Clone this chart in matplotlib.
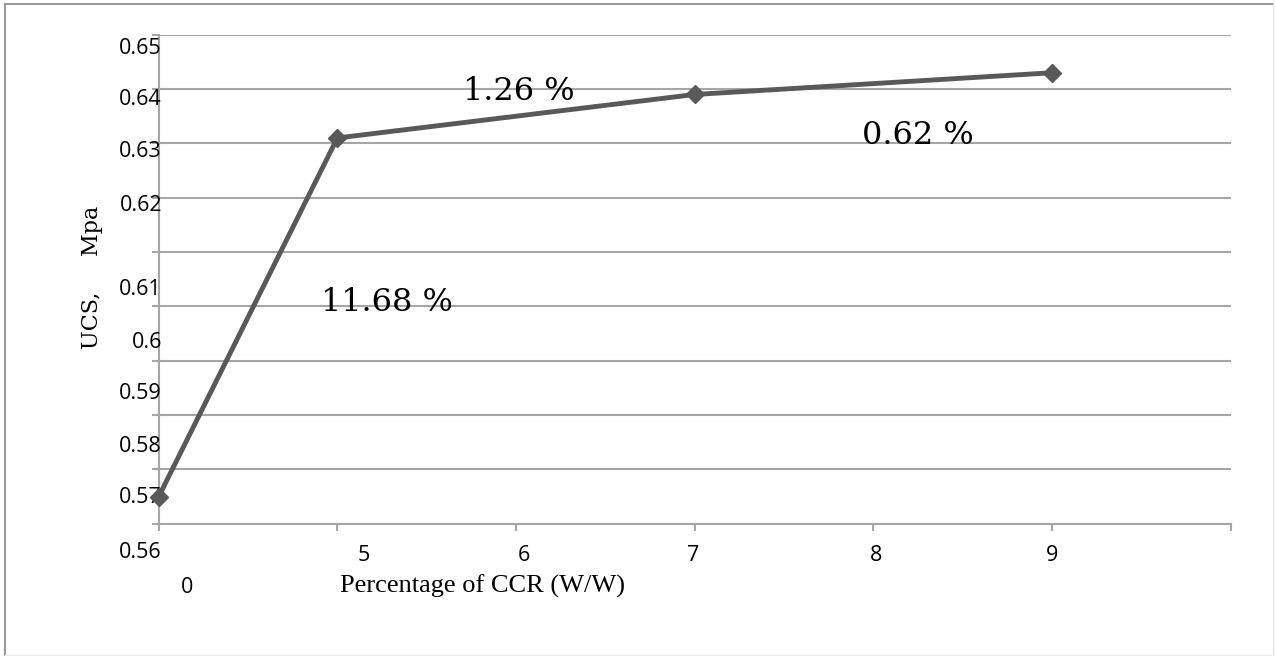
import numpy as np
import matplotlib
matplotlib.use("Agg")
import matplotlib.pyplot as plt
import matplotlib.transforms as mtransforms
from matplotlib.lines import Line2D

# data
ccr_pct = [0, 5, 7, 9]
ucs_mpa = [0.565, 0.631, 0.639, 0.643]
increase_pct = [11.68, 1.26, 0.62]

y_ticks = [0.56, 0.57, 0.58, 0.59, 0.60, 0.61, 0.62, 0.63, 0.64, 0.65]
y_tick_labels = ["0.56", "0.57", "0.58", "0.59", "0.6", "0.61", "0.62", "0.63", "0.64", "0.65"]
x_ticks = [4, 5, 6, 7, 8, 9, 10]
x_label_pos = [4, 5, 6, 7, 8, 9]
x_tick_labels = ["0", "5", "6", "7", "8", "9"]

# layout (pixels at dpi 100)
W, H = 1276, 656
DPI = 100
x_min, x_max = 4, 10
y_min, y_max = 0.56, 0.65

# the labels in the source image sit off their gridlines, shifts in px (down = +)
y_label_shift = [28.2, 28.1, 31.5, 32.9, 35.8, 37.7, 7.6, 8.5, 10.9, 13.3]
x_label_shift = [(28.3, 64.2), (26.3, 31.7), (8.2, 31.7), (-1.8, 31.7), (2.8, 31.7), (-0.2, 31.7)]
annot_pos = [(5.278, 0.6007), (6.014, 0.6396), (8.251, 0.6315)]

grid_col = "#a6a6a6"
line_col = "#595959"

fig = plt.figure(figsize=(W / DPI, H / DPI), dpi=DPI)
ax = fig.add_axes([158.7 / W, 1 - 523.8 / H, 1071.8 / W, 489.1 / H])

x_plot = np.clip(ccr_pct, x_min, None)
ax.plot(x_plot, ucs_mpa, color=line_col, lw=3.5, marker="D", ms=9.5,
        mfc=line_col, mec=line_col, clip_on=False, zorder=5)

ax.set_xlim(x_min, x_max)
ax.set_ylim(y_min, y_max)
ax.set_xticks(x_ticks)
ax.set_yticks(y_ticks)
ax.tick_params(axis="x", length=5, width=1.5, color=grid_col, labelbottom=False)
ax.tick_params(axis="y", length=5.4, width=1.5, color=grid_col, labelleft=False)
ax.grid(axis="y", color=grid_col, lw=1.5)
ax.set_axisbelow(True)
for side in ["top", "right"]:
    ax.spines[side].set_visible(False)
for side in ["left", "bottom"]:
    ax.spines[side].set_color(grid_col)
    ax.spines[side].set_linewidth(1.5)

tick_font = dict(family=["Open Sans", "DejaVu Sans"], fontsize=15.5, color="black")

ytrans = mtransforms.blended_transform_factory(ax.transAxes, ax.transData)
for v, lab, dy in zip(y_ticks, y_tick_labels, y_label_shift):
    off = mtransforms.ScaledTranslation(3.3 / DPI, -dy / DPI, fig.dpi_scale_trans)
    ax.text(0, v, lab, transform=ytrans + off, ha="right", va="center", **tick_font)

xtrans = mtransforms.blended_transform_factory(ax.transData, ax.transAxes)
for v, lab, (dx, dy) in zip(x_label_pos, x_tick_labels, x_label_shift):
    off = mtransforms.ScaledTranslation(dx / DPI, -dy / DPI, fig.dpi_scale_trans)
    ax.text(v, 0, lab, transform=xtrans + off, ha="center", va="center", **tick_font)

for pct, (px, py) in zip(increase_pct, annot_pos):
    ax.text(px, py, f"{pct:.2f} %", ha="center", va="center",
            family="DejaVu Serif", fontsize=23, color="black")

fig.text(483 / W, 1 - 586 / H, "Percentage of CCR (W/W)", ha="center", va="center",
         family="Liberation Serif", fontsize=19)
fig.text(92 / W, 1 - 277.5 / H, "UCS,     Mpa", ha="center", va="center",
         rotation=90, family="DejaVu Serif", fontsize=16)

# frame around the picture
fig.add_artist(Line2D([5 / W, 5 / W], [1 - 4 / H, 1 - 655 / H], color="#9a9a9a", lw=1.5))
fig.add_artist(Line2D([5 / W, 1273 / W], [1 - 4 / H, 1 - 4 / H], color="#9a9a9a", lw=1.5))
fig.add_artist(Line2D([1273 / W, 1273 / W], [1 - 4 / H, 1 - 655 / H], color="#e6e6e6", lw=1))
fig.add_artist(Line2D([5 / W, 1273 / W], [1 - 655 / H, 1 - 655 / H], color="#ececec", lw=1))

fig.savefig("out.png", dpi=DPI)
